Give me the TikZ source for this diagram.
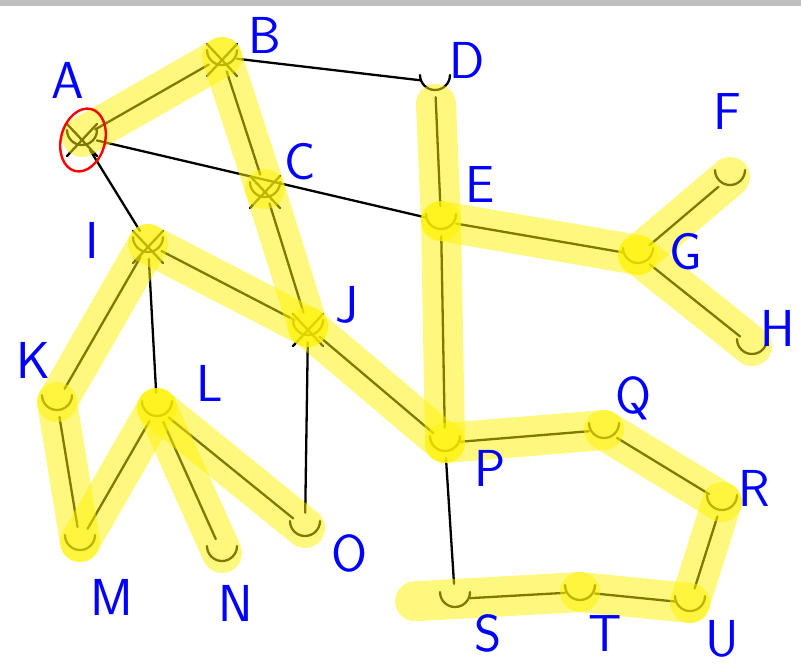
\documentclass[tikz,border=0pt]{standalone}
\usepackage{fontspec}

\tikzset{
  vtx/.style={circle, inner sep=0pt, minimum size=30pt},
  pen/.style={line width=2.3pt, line cap=round},
  hl/.style={line width=40pt, line cap=round, yellow, opacity=0.5},
  lbl/.style={blue, font=\sffamily\fontsize{52}{52}\selectfont, inner sep=0pt}
}

\begin{document}
\begin{tikzpicture}[x=1pt, y=-1pt]
  \useasboundingbox (0,0) rectangle (801,667);
  \fill[black!25] (0,0) rectangle (801,6);
  \foreach \n/\x/\y in {A/82/137, B/222/57, C/265/189, D/435/82, E/441/221, F/730/177, G/638/255, H/752/346, I/148/244, J/308/327, K/57/402, L/157/408, M/80/542, N/222/553, O/305/528, P/445/443, Q/604/430, R/722/502, S/455/599, T/580/592, U/690/603}
    \node[vtx] (\n) at (\x,\y) {};
  % graph edges
  \foreach \a/\b in {A/B, B/C, B/D, A/E, A/I, C/J, I/J, I/K, I/L, K/M, L/M, L/N, L/O, J/O, J/P, D/E, E/P, E/G, G/F, G/H, P/Q, Q/R, R/U, U/T, T/S, P/S}
    \draw[pen] (\a) -- (\b);
  \foreach \n in {A,...,U}
    \draw[pen] (\n.center) ++(-15pt,7pt) arc[start angle=180, end angle=360, radius=15pt];
  \foreach \n in {A,B,C,I,J}
    \draw[pen] (\n) +(-15,-13) -- +(15,19) +(15,-13) -- +(-15,19);
  % highlighted tree
  \foreach \a/\b in {A/B, B/C, C/J, I/J, I/K, K/M, M/L, L/N, L/O, J/P, E/P, E/G, G/F, G/H, P/Q, Q/R, R/U, U/T}
    \draw[hl] (\a.center) -- (\b.center);
  \draw[hl, shorten <=22pt] (D.center) -- (E.center);
  \draw[hl, shorten >=-40pt] (T.center) -- (S.center);
  \draw[red, line width=2.4pt] (A) +(1,3) ellipse[x radius=22pt, y radius=32pt, rotate=-15];
  \foreach \n/\x/\y in {A/68/80, B/265/35, C/300/162, D/467/60, E/480/185, F/727/112, G/686/252, H/778/328, I/92/240, J/347/305, K/33/360, L/210/383, M/112/597, N/236/603, O/350/553, P/490/468, Q/634/398, R/754/488, S/488/633, T/605/634, U/722/639}
    \node[lbl] (l\n) at (\x,\y) {\n};
\end{tikzpicture}
\end{document}
